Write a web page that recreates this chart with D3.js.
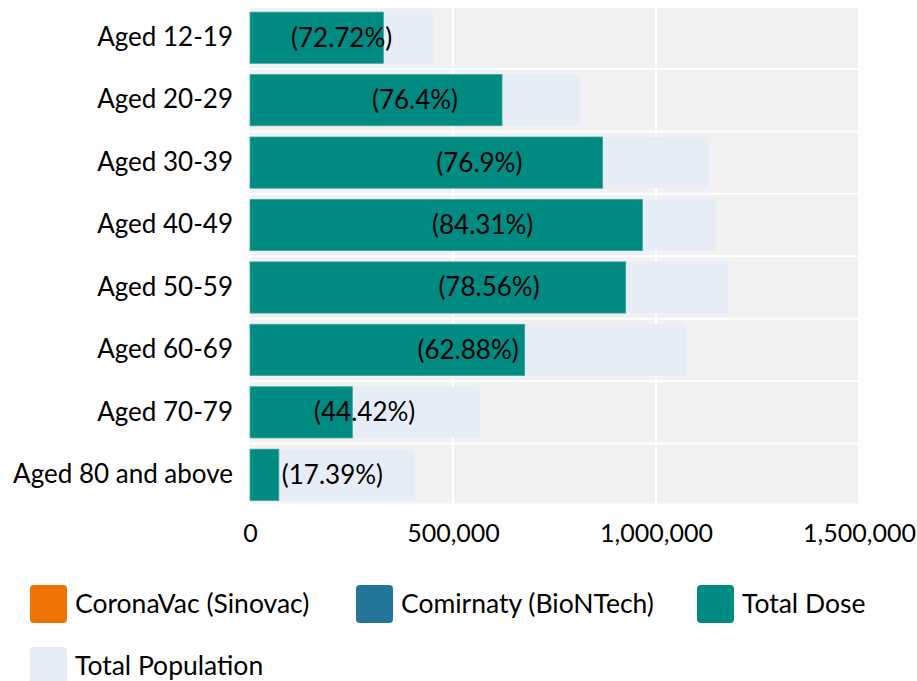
<!DOCTYPE html>
<html>
<head>
<meta charset="utf-8">
<script src="https://cdn.jsdelivr.net/npm/d3@7"></script>
<style>
  html, body { margin: 0; padding: 0; background: #fff; }
  svg { display: block; font-family: Lato, "Noto Sans", sans-serif; }
</style>
</head>
<body>
<svg id="chart" width="917" height="681"></svg>
<script>
const categories = ["Aged 12-19", "Aged 20-29", "Aged 30-39", "Aged 40-49", "Aged 50-59", "Aged 60-69", "Aged 70-79", "Aged 80 and above"];
const totalPopulation = [451500, 812800, 1129800, 1146100, 1177300, 1074500, 565000, 406000];
const totalDose = [328400, 620700, 868600, 966300, 925300, 676500, 252000, 71000];
const coveragePercent = ["72.72", "76.4", "76.9", "84.31", "78.56", "62.88", "44.42", "17.39"];
const xTicks = [0, 500000, 1000000, 1500000];
const legendNames = ["CoronaVac (Sinovac)", "Comirnaty (BioNTech)", "Total Dose", "Total Population"];
const legendColors = ["#F07306", "#23769A", "#008B82", "#E6EDF7"];

const svg = d3.select("#chart");
const x = d3.scaleLinear().domain([0, 1500000]).range([250, 859]);
const y = d3.scaleBand().domain(categories).range([6.5, 506]).paddingInner(0.18).paddingOuter(0.09);

// plot background
svg.append("rect").attr("x", 250).attr("y", 8).attr("width", 608).attr("height", 495.5).attr("fill", "#F1F1F1");

// vertical grid
svg.append("g").selectAll("line").data(xTicks.filter(d => d > 0 && d < 1500000)).join("line")
  .attr("x1", d => x(d)).attr("x2", d => x(d)).attr("y1", 8).attr("y2", 503.5)
  .attr("stroke", "#fff").attr("stroke-width", 2);

// horizontal grid between bands
svg.append("g").selectAll("line").data(categories.slice(1)).join("line")
  .attr("x1", 250).attr("x2", 858)
  .attr("y1", d => y(d) - y.step() * y.paddingInner() / 2)
  .attr("y2", d => y(d) - y.step() * y.paddingInner() / 2)
  .attr("stroke", "#fff").attr("stroke-width", 2);

// population bars
svg.append("g").selectAll("rect").data(categories).join("rect")
  .attr("x", x(0)).attr("y", d => y(d))
  .attr("width", (d, i) => x(totalPopulation[i]) - x(0))
  .attr("height", y.bandwidth())
  .attr("fill", legendColors[3]);

// dose bars
svg.append("g").selectAll("rect").data(categories).join("rect")
  .attr("x", x(0)).attr("y", d => y(d))
  .attr("width", (d, i) => x(totalDose[i]) - x(0))
  .attr("height", y.bandwidth())
  .attr("fill", legendColors[2])
  .attr("stroke", "#3aa39c").attr("stroke-width", 0.8);

// labels
svg.append("g").selectAll("text").data(categories).join("text")
  .attr("x", (d, i) => x(totalPopulation[i] / 2))
  .attr("y", d => y(d) + y.bandwidth() / 2 + 9)
  .attr("text-anchor", "middle")
  .attr("font-size", 26)
  .attr("fill", "#000")
  .text((d, i) => "(" + coveragePercent[i] + "%)");

// x axis
const xAxis = svg.append("g").attr("transform", "translate(0,524)")
  .call(d3.axisBottom(x).tickValues(xTicks).tickFormat(d3.format(",")).tickSize(0).tickPadding(0));
xAxis.select(".domain").remove();
xAxis.selectAll("text").attr("font-size", 25).attr("font-family", "Lato, sans-serif").attr("fill", "#000");

// y axis
const yAxis = svg.append("g").attr("transform", "translate(250,0)")
  .call(d3.axisLeft(y).tickSize(0).tickPadding(17));
yAxis.select(".domain").remove();
yAxis.selectAll("text").attr("font-size", 26).attr("font-family", "Lato, sans-serif").attr("fill", "#000");

// legend
const legendPos = [[30, 585], [356, 585], [697, 585], [30, 647]];
const lg = svg.append("g").selectAll("g").data(legendNames).join("g")
  .attr("transform", (d, i) => `translate(${legendPos[i][0]},${legendPos[i][1]})`);
lg.append("rect").attr("width", 37).attr("height", 38).attr("rx", 4)
  .attr("fill", (d, i) => legendColors[i]);
lg.append("text").attr("x", 45).attr("y", 28).attr("font-size", 26.5).attr("fill", "#000").text(d => d);
</script>
</body>
</html>
